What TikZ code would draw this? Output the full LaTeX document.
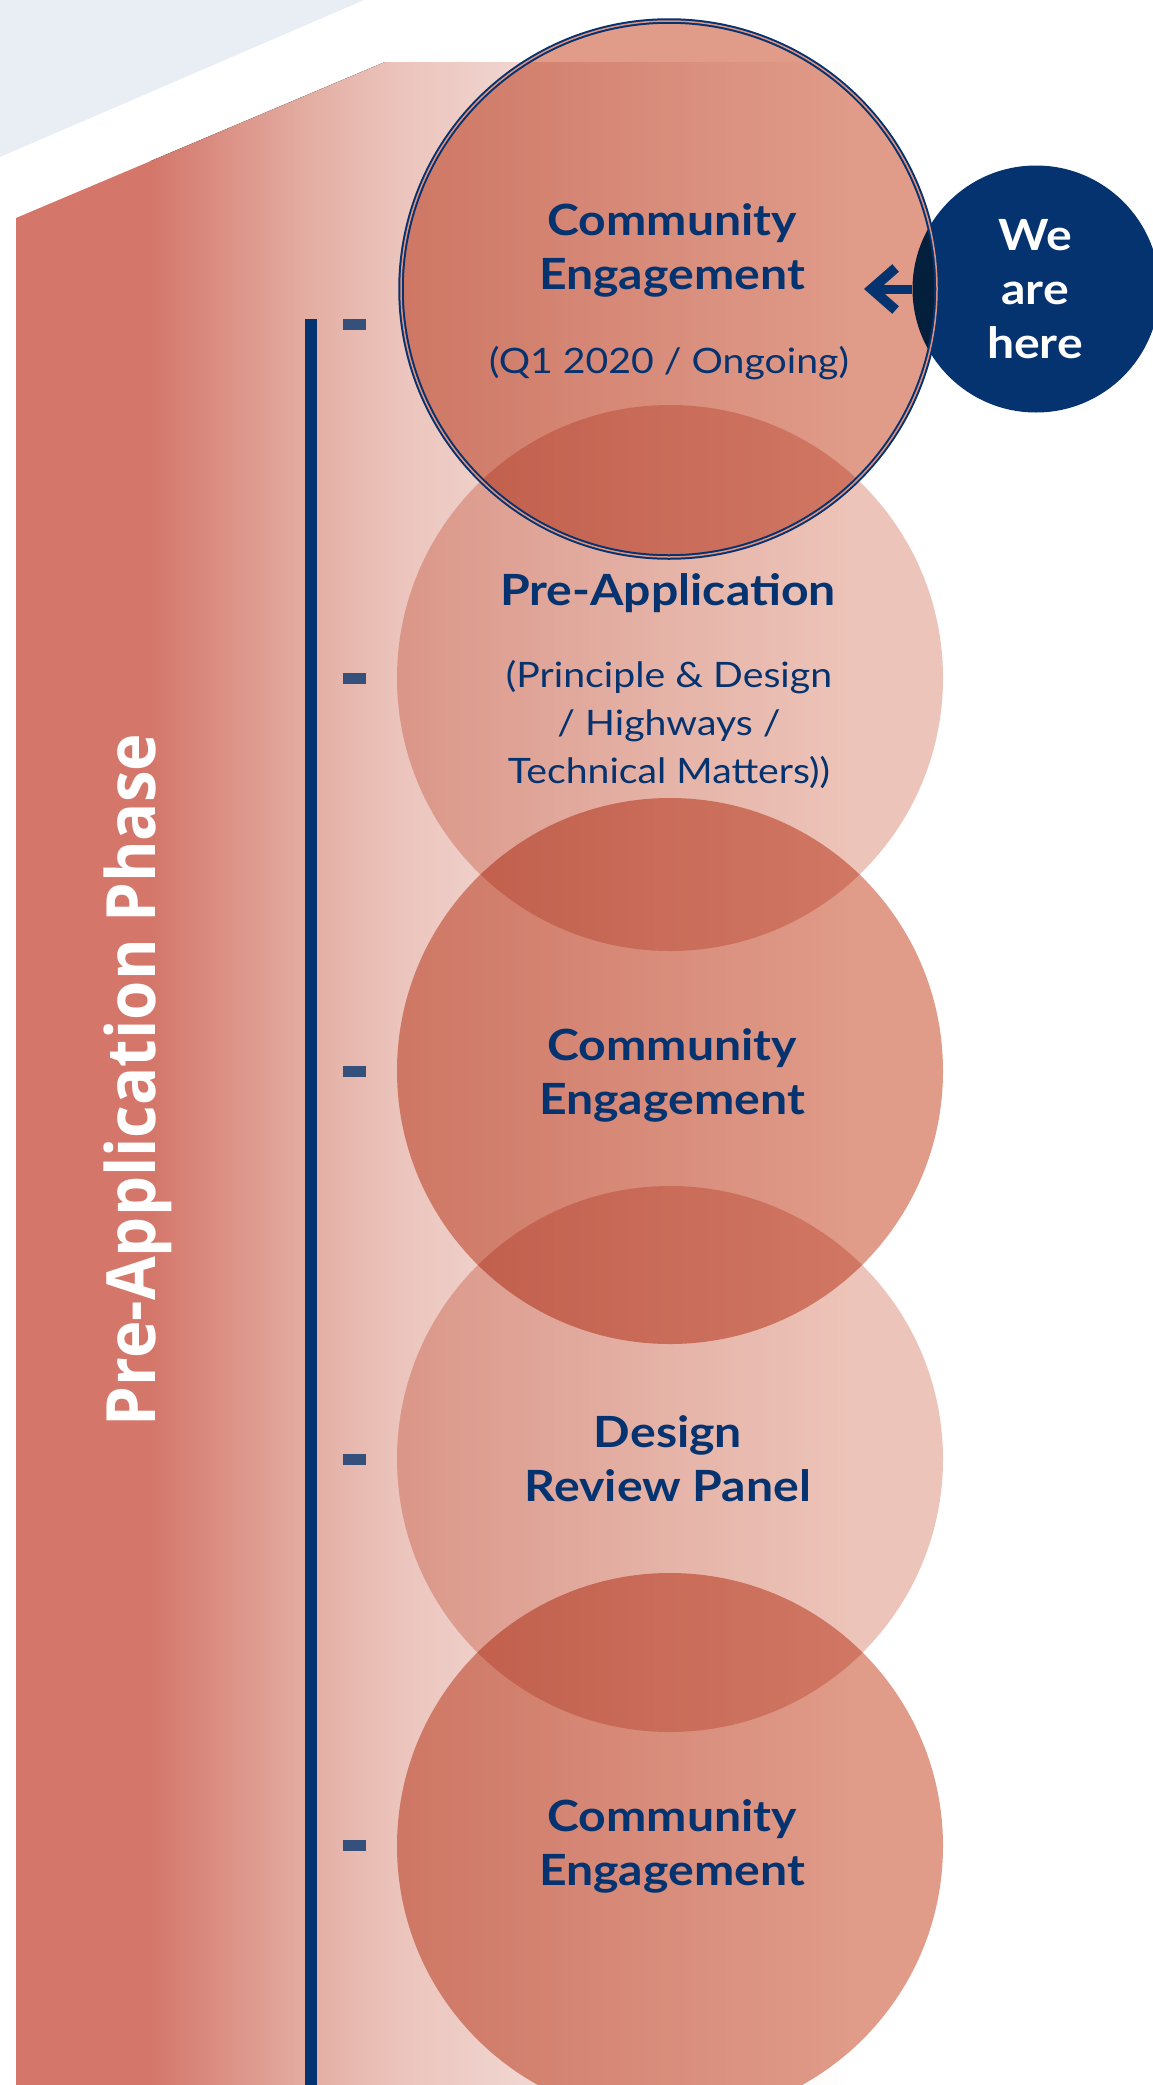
\documentclass[tikz,border=0pt]{standalone}
\usepackage{fontspec}
\setmainfont{Lato}[FakeStretch=1.12]
\newfontfamily\phasefont{Open Sans}[FakeStretch=0.933]
\usetikzlibrary{arrows.meta}

\definecolor{navy}{HTML}{05336F}
\definecolor{tickcol}{HTML}{34507B}
\definecolor{greyblue}{HTML}{E9EDF4}
\definecolor{darkcirc}{HTML}{E09B89}
\definecolor{lightcirc}{HTML}{EDC4B9}
\definecolor{ringmid}{HTML}{E0907E}
\definecolor{bandA}{HTML}{D4766A}
\definecolor{bandB}{HTML}{E3ABA0}
\definecolor{bandC}{HTML}{EBC4BC}
\definecolor{bandD}{HTML}{F2D9D4}
\definecolor{bandE}{HTML}{F8EAE8}

\begin{document}
\begin{tikzpicture}[x=1pt,y=-1pt,
  bubble/.style={circle, fill=#1, inner sep=0pt, minimum size=546pt},
  tickmark/.style={rectangle, fill=tickcol, inner sep=0pt, minimum width=23pt, minimum height=11pt},
  title/.style={text=navy, font=\bfseries\fontsize{43}{54}\selectfont, align=center, anchor=base, inner sep=0pt},
  sub/.style={text=navy, font=\fontsize{35}{48}\selectfont, align=center, anchor=base, inner sep=0pt},
  ring/.style={draw=navy, line width=2pt, double=ringmid, double distance=1.5pt},
  pointer/.style={draw=navy, line width=9pt, -{Straight Barb[length=24pt, width=42pt, line width=10pt]}}
]
\useasboundingbox (0,0) rectangle (1152,2085);

% pale corner shape
\fill[greyblue] (0,0) -- (364,0) -- (0,157) -- cycle;

% phase band, fading out to the right
\begin{scope}
  \clip (16,218) -- (385,62) -- (1152,62) -- (1152,2085) -- (16,2085) -- cycle;
  \fill[bandA] (16,0) rectangle (151,2085);
  \fill[left color=bandA, right color=bandB] (150,0) rectangle (301,2085);
  \fill[left color=bandB, right color=bandC] (300,0) rectangle (398,2085);
  \fill[left color=bandC, right color=bandD] (397,0) rectangle (551,2085);
  \fill[left color=bandD, right color=bandE] (550,0) rectangle (671,2085);
  \fill[left color=bandE, right color=white] (670,0) rectangle (850,2085);
\end{scope}

% timeline
\draw[navy, line width=12pt] (311,319) -- (311,2085);
\node[tickmark] (k1) at (354.5,324.5) {};
\node[tickmark] (k2) at (354.5,678) {};
\node[tickmark] (k3) at (354.5,1071) {};
\node[tickmark] (k4) at (354.5,1459) {};
\node[tickmark] (k5) at (354.5,1845) {};

% phase label
\node[rotate=90, anchor=base, inner sep=0pt, text=white,
      font=\phasefont\bfseries\fontsize{68}{80}\selectfont] (phase) at (155,1080) {Pre-Application Phase};

% marker bubble
\node[circle, fill=navy, inner sep=0pt, minimum size=247pt] (here) at (1036,289) {};

% stage circles
\begin{scope}[blend mode=multiply]
  \node[bubble=darkcirc, minimum size=540pt] (c1) at (669,289) {};
  \node[bubble=lightcirc] (c2) at (670,678) {};
  \node[bubble=darkcirc] (c3) at (670,1071) {};
  \node[bubble=lightcirc] (c4) at (670,1459) {};
  \node[bubble=darkcirc] (c5) at (670,1846) {};
\end{scope}
\draw[ring] (c1.center) circle[radius=268pt];

% pointer to the current stage
\coordinate (tip) at (864,289);
\draw[pointer] (here.west) -- (tip);

% labels (multi-line nodes sit on their last baseline)
\node[title] (t1) at (672,289) {Community\\Engagement};
\node[sub] (s1) at (669,373) {(Q1 2020 / Ongoing)};
\node[title] (t2) at (668,605) {Pre-Application};
\node[sub] (s2) at (669,783) {(Principle \& Design\\/ Highways /\\Technical Matters))};
\node[title] (t3) at (672,1114) {Community\\Engagement};
\node[title] (t4) at (668,1501) {Design\\Review Panel};
\node[title] (t5) at (672,1885) {Community\\Engagement};
\node[title, text=white] (hl) at (1035,358) {We\\are\\here};
\end{tikzpicture}
\end{document}
